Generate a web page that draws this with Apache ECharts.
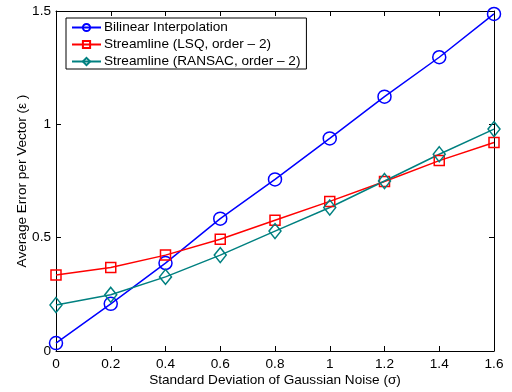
<!DOCTYPE html>
<html><head><meta charset="utf-8">
<script src="https://cdn.jsdelivr.net/npm/echarts@6/dist/echarts.min.js"></script>
<style>html,body{margin:0;padding:0;background:#fff}#c{width:512px;height:392px}</style>
</head><body><div id="c"></div>
<script>
const sigma = [0, 0.2, 0.4, 0.6, 0.8, 1.0, 1.2, 1.4, 1.6];
const bilinear = [0.035, 0.208, 0.388, 0.584, 0.757, 0.938, 1.122, 1.296, 1.487];
const lsq = [0.335, 0.368, 0.423, 0.493, 0.577, 0.660, 0.748, 0.840, 0.920];
const ransac = [0.203, 0.248, 0.327, 0.423, 0.529, 0.633, 0.750, 0.868, 0.979];
const xTicks = ['0','0.2','0.4','0.6','0.8','1','1.2','1.4','1.6'];
const names = ['Bilinear Interpolation','Streamline (LSQ, order \u2013 2)','Streamline (RANSAC, order \u2013 2)'];

const font = 'Liberation Sans, Arial, Helvetica, sans-serif';
const fs = 13.6;
const chart = echarts.init(document.getElementById('c'));
function pairs(v){ return sigma.map((x,i)=>[x,v[i]]); }
function ser(name, data, color, symbol, size){
  return {name, type:'line', data:pairs(data), symbol, symbolSize:size,
    showAllSymbol:true,
    lineStyle:{color, width:1.5},
    itemStyle:{color:'rgba(255,255,255,0)', borderColor:color, borderWidth:1.5},
    emphasis:{disabled:true}, z:3};
}
const axisCommon = {
  axisLine:{show:true, onZero:false, lineStyle:{color:'#000', width:1}},
  axisTick:{show:true, inside:true, length:5, lineStyle:{color:'#000'}},
  splitLine:{show:false}
};
chart.setOption({
  animation:false,
  backgroundColor:'#fff',
  textStyle:{fontFamily:font},
  grid:{left:56, right:18, top:11, bottom:37, containLabel:false},
  legend:{
    orient:'vertical', left:66, top:18,
    backgroundColor:'#fff', borderColor:'#000', borderWidth:1,
    padding:[2,6,0,5], itemGap:2, itemWidth:29, itemHeight:9,
    textStyle:{fontFamily:font, fontSize:fs, color:'#000', padding:[0,0,0,-2], lineHeight:15},
    data:names
  },
  xAxis:[
    Object.assign({type:'value', min:0, max:1.6, interval:0.2, position:'bottom',
      axisLabel:{color:'#000', fontSize:fs, fontFamily:font, margin:6,
        formatter:(v)=>xTicks[Math.round(v/0.2)]},
      name:'Standard Deviation of Gaussian Noise (\u03c3)', nameLocation:'middle', nameGap:22,
      nameMoveOverlap:false,
      nameTextStyle:{color:'#000', fontSize:fs, fontFamily:font}}, axisCommon),
    Object.assign({type:'value', min:0, max:1.6, interval:0.2, position:'top',
      axisLabel:{show:false}}, axisCommon)
  ],
  yAxis:[
    Object.assign({type:'value', min:0, max:1.5, interval:0.5, position:'left',
      axisLabel:{color:'#000', fontSize:fs, fontFamily:font, margin:5,
        formatter:(v)=>String(v)},
      name:'Average Error per Vector (\u03b5 )', nameLocation:'middle', nameGap:27,
      nameMoveOverlap:false,
      nameTextStyle:{color:'#000', fontSize:fs, fontFamily:font}}, axisCommon),
    Object.assign({type:'value', min:0, max:1.5, interval:0.5, position:'right',
      axisLabel:{show:false}}, axisCommon)
  ],
  series:[
    ser(names[0], bilinear, '#0000ff', 'circle', 13),
    ser(names[1], lsq, '#ff0000', 'rect', 10),
    ser(names[2], ransac, '#008080', 'diamond', [12,15])
  ]
});
</script></body></html>
